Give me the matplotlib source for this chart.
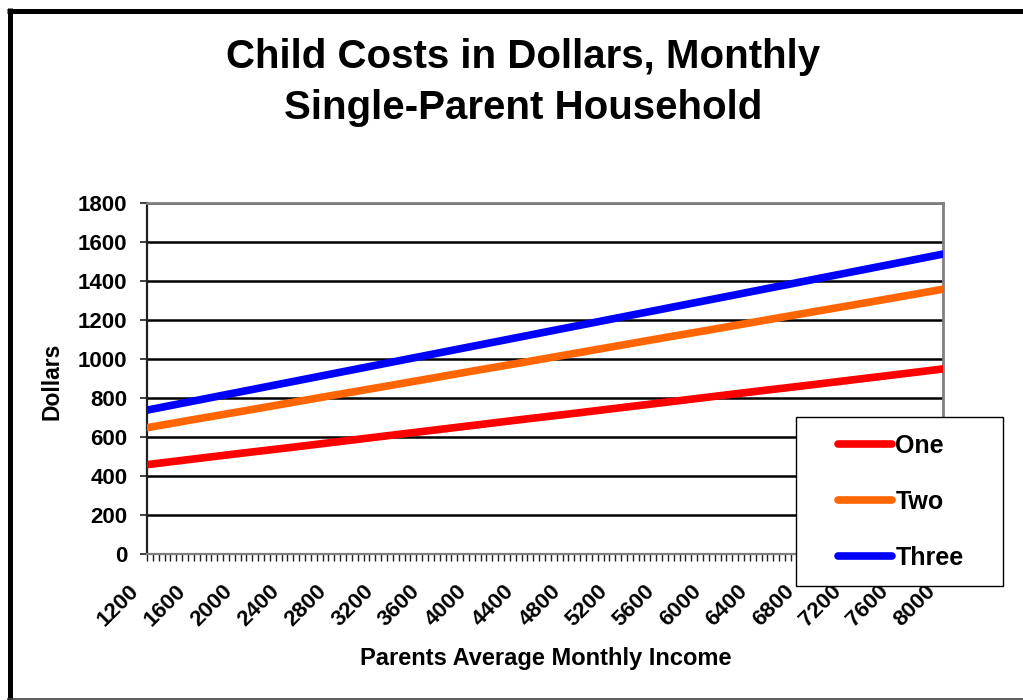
import numpy as np
import matplotlib
matplotlib.use('Agg')
import matplotlib.pyplot as plt
import matplotlib.transforms as mtransforms
from matplotlib.ticker import MultipleLocator
from matplotlib.patches import Rectangle
from matplotlib.lines import Line2D

plt.rcParams['font.family'] = ['Liberation Sans', 'DejaVu Sans']
plt.rcParams['font.weight'] = 'bold'

#-----------------------------------------------------------------------------
# data (every 400 dollars of income)
income = [1200, 1600, 2000, 2400, 2800, 3200, 3600, 4000, 4400,
          4800, 5200, 5600, 6000, 6400, 6800, 7200, 7600, 8000]
one = [459, 488, 517, 545, 574, 603, 632, 661, 690,
       718, 747, 776, 805, 834, 862, 891, 920, 949]
two = [648, 690, 731, 773, 815, 856, 898, 940, 981,
       1023, 1065, 1107, 1148, 1190, 1232, 1273, 1315, 1357]
three = [738, 785, 832, 879, 926, 973, 1020, 1067, 1114,
         1161, 1208, 1255, 1302, 1349, 1396, 1443, 1490, 1537]
series = [('One', one, '#ff0000'), ('Two', two, '#ff6600'), ('Three', three, '#0000ff')]

#-----------------------------------------------------------------------------
W, H = 1023, 700
fig = plt.figure(figsize=(W/100, H/100), dpi=100)
fig.patch.set_facecolor('white')
ax = fig.add_axes([147/W, 1-554.3/H, 796/W, 351.6/H])

for name, vals, col in series:
    ax.plot(income, vals, color=col, lw=5.5, solid_capstyle='round', label=name, zorder=3)

ax.set_xlim(1200, 8000)
ax.set_ylim(0, 1800)
ax.yaxis.set_major_locator(MultipleLocator(200))
ax.set_xticks(income)
ax.xaxis.set_minor_locator(MultipleLocator(50))
ax.grid(axis='y', color='black', lw=1.8, zorder=1)
ax.set_axisbelow(True)

for s in ['top', 'right']:
    ax.spines[s].set_color('#808080')
    ax.spines[s].set_linewidth(2)
ax.spines['left'].set_color('#202020')
ax.spines['left'].set_linewidth(1.6)
ax.spines['bottom'].set_color('#808080')
ax.spines['bottom'].set_linewidth(1.6)

ax.tick_params(axis='y', length=5, width=1.2, color='#202020', labelsize=16, pad=9)
ax.tick_params(axis='x', which='both', length=5, width=1, color='#202020')
ax.tick_params(axis='x', labelsize=16, pad=19)
shift = mtransforms.ScaledTranslation(-11/100, 0, fig.dpi_scale_trans)
for lab in ax.get_xticklabels():
    lab.set_rotation(45)
    lab.set_ha('right')
    lab.set_va('center')
    lab.set_rotation_mode('anchor')
    lab.set_transform(lab.get_transform() + shift)
for lab in ax.get_xticklabels() + ax.get_yticklabels():
    lab.set_fontweight('bold')

fig.text(52/W, 1-381/H, 'Dollars', fontsize=16.5, fontweight='bold', rotation=90,
         ha='center', va='center')
fig.text(546/W, 1-658/H, 'Parents Average Monthly Income', fontsize=17,
         fontweight='bold', ha='center', va='center')
fig.text(523/W, 1-57/H, 'Child Costs in Dollars, Monthly', fontsize=29,
         fontweight='bold', ha='center', va='center')
fig.text(523/W, 1-108/H, 'Single-Parent Household', fontsize=29,
         fontweight='bold', ha='center', va='center')

# legend box
fig.patches.append(Rectangle((796/W, 1-586/H), 207/W, 169/H, transform=fig.transFigure,
                             facecolor='white', edgecolor='black', lw=1, zorder=2))
handles, labels = ax.get_legend_handles_labels()
fig.legend(handles, labels, loc='upper left', bbox_to_anchor=(818/W, 1-414/H),
           frameon=False, fontsize=18, handlelength=2.15, handletextpad=0.14,
           labelspacing=1.28, borderpad=0.3)

# outer frame
fig.lines.append(Line2D([9.5/W, 9.5/W], [1-8/H, 0], transform=fig.transFigure,
                        color='black', lw=3.6, solid_capstyle='butt'))
fig.lines.append(Line2D([7/W, 1], [1-10.5/H, 1-10.5/H], transform=fig.transFigure,
                        color='black', lw=3.6, solid_capstyle='butt'))
fig.lines.append(Line2D([7/W, 1], [1-698.8/H, 1-698.8/H], transform=fig.transFigure,
                        color='#404040', lw=1.2, solid_capstyle='butt'))

fig.savefig('out.png', dpi=100)
